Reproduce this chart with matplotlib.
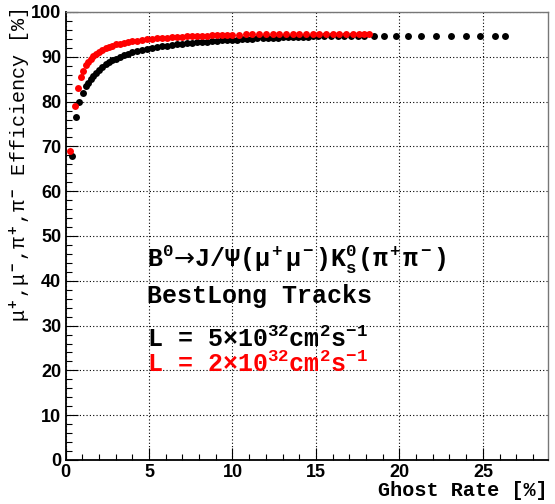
import matplotlib
matplotlib.use("Agg")
import matplotlib.pyplot as plt
import matplotlib.ticker as tck

plt.rcParams['mathtext.fontset'] = 'custom'
plt.rcParams['mathtext.rm'] = 'Liberation Mono:bold'
plt.rcParams['mathtext.it'] = 'Liberation Mono:bold'
plt.rcParams['mathtext.bf'] = 'Liberation Mono:bold'
plt.rcParams['mathtext.sf'] = 'DejaVu Sans'

# ghost rate [%] vs efficiency [%], L = 5e32
ghost_5e32 = [0.41, 0.65, 0.83, 1.05, 1.21, 1.35, 1.5, 1.65, 1.8, 2.0, 2.2, 2.4, 2.6, 2.8,
              3.0, 3.25, 3.5, 3.75, 4.0, 4.3, 4.6, 4.9, 5.2, 5.5, 5.8, 6.1, 6.4, 6.7, 7.0,
              7.3, 7.6, 7.9, 8.2, 8.5, 8.8, 9.1, 9.4, 9.7, 10.0, 10.3, 10.6, 10.9, 11.2,
              11.5, 11.8, 12.1, 12.4, 12.7, 13.0, 13.3, 13.6, 13.9, 14.2, 14.5, 14.8, 15.1,
              15.5, 15.9, 16.3, 16.7, 17.1, 17.5, 17.9, 18.5, 19.1, 19.8, 20.5, 21.3, 22.2,
              23.1, 24.0, 24.8, 25.7, 26.3]
eff_5e32 = [67.9, 76.5, 79.8, 82.0, 83.5, 84.2, 85.0, 85.7, 86.3, 87.0, 87.7, 88.3, 88.8, 89.2,
            89.6, 90.0, 90.4, 90.7, 91.0, 91.3, 91.55, 91.8, 92.0, 92.2, 92.35, 92.5, 92.65, 92.8,
            92.9, 93.0, 93.1, 93.2, 93.3, 93.4, 93.5, 93.6, 93.65, 93.7, 93.8, 93.85, 93.9,
            94.0, 94.05, 94.1, 94.15, 94.2, 94.25, 94.3, 94.35, 94.4, 94.45, 94.45, 94.5, 94.5,
            94.55, 94.55, 94.6, 94.6, 94.6, 94.65, 94.65, 94.65, 94.7, 94.7, 94.7, 94.7, 94.7,
            94.7, 94.7, 94.7, 94.7, 94.7, 94.7, 94.7]

# L = 2e32
ghost_2e32 = [0.29, 0.57, 0.77, 0.91, 1.05, 1.21, 1.35, 1.5, 1.65, 1.8, 2.0, 2.2, 2.4, 2.6, 2.8,
              3.0, 3.25, 3.5, 3.75, 4.0, 4.3, 4.6, 4.9, 5.2, 5.5, 5.8, 6.1, 6.4, 6.7, 7.0, 7.3,
              7.6, 7.9, 8.2, 8.5, 8.8, 9.1, 9.4, 9.7, 10.0, 10.4, 10.8, 11.2, 11.6, 12.0, 12.4,
              12.8, 13.2, 13.6, 14.0, 14.4, 14.8, 15.2, 15.6, 16.0, 16.4, 16.8, 17.2, 17.6,
              17.9, 18.2]
eff_2e32 = [69.0, 79.0, 83.0, 85.4, 86.9, 88.1, 88.9, 89.6, 90.1, 90.6, 91.1, 91.5, 91.9, 92.2,
            92.5, 92.75, 92.95, 93.15, 93.3, 93.45, 93.6, 93.75, 93.9, 94.0, 94.1, 94.2, 94.3,
            94.4, 94.45, 94.5, 94.55, 94.6, 94.65, 94.7, 94.75, 94.8, 94.85, 94.85, 94.9, 94.9,
            94.95, 95.0, 95.0, 95.0, 95.0, 95.05, 95.05, 95.05, 95.05, 95.1, 95.1, 95.1, 95.1,
            95.1, 95.1, 95.1, 95.15, 95.15, 95.15, 95.15, 95.15]

fig = plt.figure(figsize=(5.55, 5.04), dpi=100)
ax = fig.add_axes([65.5 / 555, 44 / 504, 482.5 / 555, 448 / 504])

ax.plot(ghost_5e32, eff_5e32, 'o', color='black', markersize=5.0, markeredgewidth=0)
ax.plot(ghost_2e32, eff_2e32, 'o', color='red', markersize=5.0, markeredgewidth=0)

ax.set_xlim(0, 28.9)
ax.set_ylim(0, 100)
ax.xaxis.set_major_locator(tck.MultipleLocator(5))
ax.xaxis.set_minor_locator(tck.MultipleLocator(1))
ax.yaxis.set_major_locator(tck.MultipleLocator(10))
ax.yaxis.set_minor_locator(tck.MultipleLocator(2))
ax.grid(True, which='major', color='black', linestyle=(0, (1, 2)), linewidth=0.8)
ax.set_axisbelow(True)

ax.tick_params(which='both', direction='in', top=False, right=False)
ax.tick_params(which='major', length=8.5, width=0.8, pad=3)
ax.tick_params(which='minor', length=4.3, width=0.8)
for lbl in ax.get_xticklabels() + ax.get_yticklabels():
    lbl.set_fontfamily('Liberation Sans')
    lbl.set_fontweight('bold')
    lbl.set_fontsize(13)

for side in ['left', 'bottom']:
    ax.spines[side].set_linewidth(1.3)
for side in ['right', 'top']:
    ax.spines[side].set_color('#777777')
    ax.spines[side].set_linewidth(1.0)

fig.text(548 / 555, 1 - 490 / 504, 'Ghost Rate [%]', ha='right', va='center',
         fontfamily='Liberation Mono', fontweight='bold', fontsize=14.5)
fig.text(20 / 555, 1 - 8 / 504, r'μ$^+$,μ$^-$,π$^+$,π$^-$ Efficiency [%]',
         rotation=90, ha='center', va='top', fontfamily='Liberation Mono',
         fontsize=14.5)

txt = dict(fontfamily='Liberation Mono', fontweight='bold', fontsize=18)
ax.text(4.9, 43, r'B$^0\mathsf{→}$J/Ψ(μ$^+$μ$^-$)K$^0_s$(π$^+$π$^-$)', **txt)
ax.text(4.9, 35, 'BestLong Tracks', **txt)
ax.text(4.9, 25.2, r'L = 5×10$^{32}$cm$^2$s$^{-1}$', **txt)
ax.text(4.9, 19.6, r'L = 2×10$^{32}$cm$^2$s$^{-1}$', color='red', **txt)

fig.savefig('out.png', dpi=100)
